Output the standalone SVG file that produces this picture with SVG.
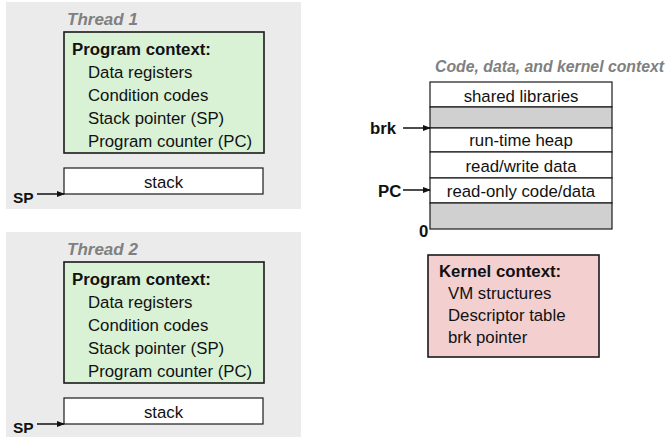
<svg xmlns="http://www.w3.org/2000/svg" width="669" height="437" viewBox="0 0 669 437">
<defs>
<marker id="ah" markerWidth="8" markerHeight="6" refX="7" refY="3" orient="auto" markerUnits="userSpaceOnUse">
<path d="M0,0 L8,3 L0,6 Z" fill="#111"/>
</marker>
<style>
text{font-family:"Liberation Sans",Arial,sans-serif;font-size:16.8px;fill:#111}
.b{font-weight:bold}
.sm{font-size:15.5px}
.title{font-weight:bold;font-style:italic;fill:#808080;font-size:17px}
.bg{fill:#ebebeb}
.ctx{fill:#d9f1d5;stroke:#1a1a1a;stroke-width:1.6}
.kern{fill:#f3cfcf;stroke:#1a1a1a;stroke-width:1.6}
.box{fill:#fff;stroke:#1a1a1a;stroke-width:1.2}
.gray{fill:#d0d0d0;stroke:#1a1a1a;stroke-width:1.2}
.c{text-anchor:middle}
.arr{stroke:#111;stroke-width:1.5;fill:none;marker-end:url(#ah)}
</style>
</defs>

<g id="thread1">
<rect class="bg" x="6" y="2" width="295" height="207"/>
<text class="title" x="67" y="25">Thread 1</text>
<rect class="ctx" x="64" y="32" width="200" height="121"/>
<text class="b" x="72" y="55">Program context:</text>
<text x="88" y="78">Data registers</text>
<text x="88" y="101">Condition codes</text>
<text x="88" y="124">Stack pointer (SP)</text>
<text x="88" y="147">Program counter (PC)</text>
<rect class="box" x="64" y="168" width="199" height="26"/>
<text class="c" x="163.5" y="188">stack</text>
<text class="b sm" x="13" y="203">SP</text>
</g>

<g id="thread2">
<rect class="bg" x="6" y="232" width="295" height="205"/>
<text class="title" x="67" y="255">Thread 2</text>
<rect class="ctx" x="64" y="262" width="200" height="121"/>
<text class="b" x="72" y="285">Program context:</text>
<text x="88" y="308">Data registers</text>
<text x="88" y="331">Condition codes</text>
<text x="88" y="354">Stack pointer (SP)</text>
<text x="88" y="377">Program counter (PC)</text>
<rect class="box" x="64" y="398" width="199" height="26"/>
<text class="c" x="163.5" y="418">stack</text>
<text class="b sm" x="13" y="433">SP</text>
</g>

<g id="memory">
<text class="title" x="435" y="72" style="font-size:15.8px">Code, data, and kernel context</text>
<rect class="box" x="430" y="82" width="182" height="25"/>
<rect class="gray" x="430" y="107" width="182" height="21"/>
<rect class="box" x="430" y="128" width="182" height="24"/>
<rect class="box" x="430" y="152" width="182" height="26"/>
<rect class="box" x="430" y="178" width="182" height="25"/>
<rect class="gray" x="430" y="203" width="182" height="26"/>
<text class="c" x="521" y="102">shared libraries</text>
<text class="c" x="521" y="146">run-time heap</text>
<text class="c" x="521" y="172">read/write data</text>
<text class="c" x="521" y="197">read-only code/data</text>
<text class="b" x="370" y="134">brk</text>
<text class="b" x="378" y="197">PC</text>
<text class="b" x="419" y="237">0</text>
</g>

<g id="kernel">
<rect class="kern" x="428" y="255" width="171" height="102"/>
<text class="b" x="439" y="277">Kernel context:</text>
<text x="448" y="299">VM structures</text>
<text x="448" y="321">Descriptor table</text>
<text x="448" y="343">brk pointer</text>
</g>

<g id="connectors">
<line class="arr" x1="37" y1="194" x2="64" y2="194"/>
<line class="arr" x1="37" y1="424" x2="64" y2="424"/>
<line class="arr" x1="403" y1="128" x2="430" y2="128"/>
<line class="arr" x1="403" y1="190" x2="430" y2="190"/>
</g>
</svg>
